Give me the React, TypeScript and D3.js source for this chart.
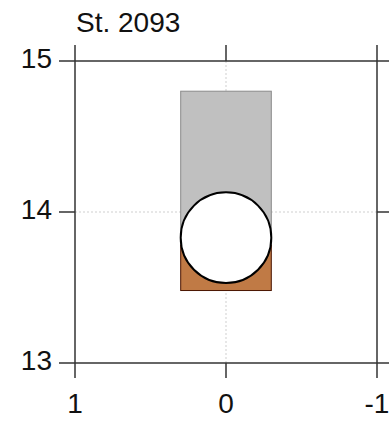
import React from "react";
import * as d3 from "d3";

const title = "St. 2093";
const xTicks = [1, 0, -1];
const yTicks = [13, 14, 15];
const layerTops = [14.8, 13.78];
const layerBottoms = [13.78, 13.48];
const layerFills = ["#c0c0c0", "#c07a45"];
const layerStrokes = ["#8a8a8a", "#4a1500"];
const barHalfWidth = 0.3;
const circleLevel = 13.83;

export default function App() {
  const W = 389, H = 422;
  const x = d3.scaleLinear().domain([1, -1]).range([75, 377]);
  const y = d3.scaleLinear().domain([13, 15]).range([363, 61]);
  const axisColor = "#333";
  const font = "'Liberation Sans', Arial, sans-serif";
  const r = x(0) - x(barHalfWidth);
  const top = y(15) - 16;
  const bottom = y(13) + 15;
  const left = x(1) - 16;
  return (
    <svg width={W} height={H} style={{ position: "absolute", left: 0, top: 0 }} fontFamily={font}>
      {/* gridlines */}
      <line x1={x(1)} x2={x(-1)} y1={y(14)} y2={y(14)} stroke="#cfcfcf" strokeWidth={1} strokeDasharray="2,2" />
      <line x1={x(0)} x2={x(0)} y1={y(15)} y2={y(13)} stroke="#cfcfcf" strokeWidth={1} strokeDasharray="2,2" />
      {/* layers */}
      {layerTops.map((t, i) => (
        <rect key={i} x={x(barHalfWidth)} width={x(-barHalfWidth) - x(barHalfWidth)} y={y(t)} height={y(layerBottoms[i]) - y(t)}
          fill={layerFills[i]} stroke={layerStrokes[i]} strokeWidth={1} />
      ))}
      <circle cx={x(0)} cy={y(circleLevel)} r={r} fill="#fff" stroke="#000" strokeWidth={2} />
      {/* frame lines */}
      {[15, 13].map((v) => (
        <line key={v} x1={left} x2={W + 20} y1={y(v)} y2={y(v)} stroke={axisColor} strokeWidth={1.5} />
      ))}
      {[1, -1].map((v) => (
        <line key={v} x1={x(v)} x2={x(v)} y1={top} y2={bottom} stroke={axisColor} strokeWidth={1.5} />
      ))}
      {/* ticks at 0 and 14 */}
      <line x1={x(0)} x2={x(0)} y1={top} y2={y(15)} stroke={axisColor} strokeWidth={1.5} />
      <line x1={x(0)} x2={x(0)} y1={y(13)} y2={bottom} stroke={axisColor} strokeWidth={1.5} />
      <line x1={left} x2={x(1)} y1={y(14)} y2={y(14)} stroke={axisColor} strokeWidth={1.5} />
      <line x1={x(-1)} x2={x(-1) + 16} y1={y(14)} y2={y(14)} stroke={axisColor} strokeWidth={1.5} />
      {/* labels */}
      {yTicks.map((v) => (
        <text key={v} x={left - 7} y={y(v) + 7} textAnchor="end" fontSize={28} fill="#111">{v}</text>
      ))}
      {xTicks.map((v) => (
        <text key={v} x={x(v)} y={413} textAnchor="middle" fontSize={28} fill="#111">{v}</text>
      ))}
      <text x={76} y={32} fontSize={28} fill="#111">{title}</text>
    </svg>
  );
}
